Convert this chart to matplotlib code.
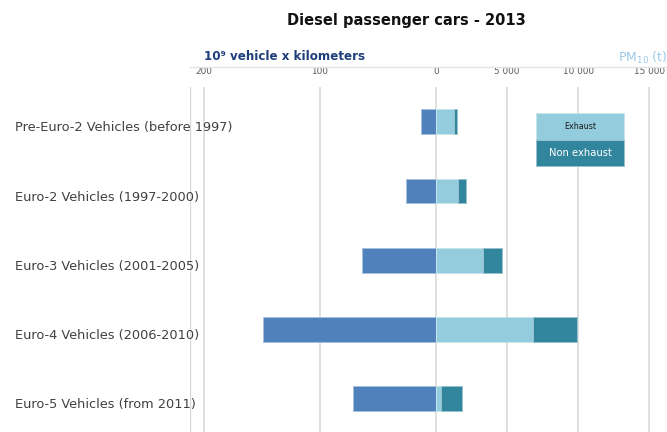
import matplotlib
matplotlib.use("Agg")
import matplotlib.pyplot as plt
from matplotlib.transforms import blended_transform_factory, offset_copy
from matplotlib.patches import Rectangle
from matplotlib.lines import Line2D

categories = ["Pre-Euro-2 Vehicles (before 1997)", "Euro-2 Vehicles (1997-2000)",
              "Euro-3 Vehicles (2001-2005)", "Euro-4 Vehicles (2006-2010)",
              "Euro-5 Vehicles (from 2011)"]
vkm = [13.2, 25.8, 63.4, 149.2, 71.7]          # 10^9 vehicle x km
pm_exhaust = [1270, 1550, 3310, 6840, 320]     # PM10 (t)
pm_non_exhaust = [210, 560, 1340, 3100, 1530]  # PM10 (t)
vkm_ticks = [200, 100, 0]
pm_ticks = [5000, 10000, 15000]
pm_tick_labels = ["5 000", "10 000", "15 000"]

W, H = 667, 432
fig = plt.figure(figsize=(W / 100, H / 100), dpi=100)

def fx(px): return px / W
def fy(py): return 1 - py / H

ax_l, ax_r_px, ax_t, ax_b = 190, 667, 87, 432
ax = fig.add_axes([fx(ax_l), fy(ax_b), fx(ax_r_px - ax_l), fy(ax_t) - fy(ax_b)])
ax2 = ax.twiny()

zero_px = 436.2
k_vkm = 1.1625      # px per 10^9 vkm
k_pm = 0.014187     # px per t
ax.set_xlim(-(zero_px - ax_l) / k_vkm, (ax_r_px - zero_px) / k_vkm)
ax2.set_xlim(-(zero_px - ax_l) / k_pm, (ax_r_px - zero_px) / k_pm)

spacing = 69.3
first = 121.7
ax.set_ylim((ax_b - first) / spacing, -(first - ax_t) / spacing)
ax2.set_ylim(ax.get_ylim())

for a in (ax, ax2):
    for s in a.spines.values():
        s.set_visible(False)
    a.set_xticks([])
    a.set_yticks([])
    a.patch.set_visible(False)

grid_c = "#D9D9D9"
for v in vkm_ticks:
    ax.axvline(-v, color=grid_c, lw=1.2, zorder=0)
for v in pm_ticks:
    ax2.axvline(v, color=grid_c, lw=1.2, zorder=0)
# left border line of label region
ax.axvline(ax.get_xlim()[0] + 0.3, color=grid_c, lw=1.0, zorder=0)

ypos = list(range(len(categories)))
bh = 0.36
ax.barh(ypos, [-v for v in vkm], height=bh, color="#4F81BD",
        edgecolor="#A7C0DE", lw=0.7, zorder=3)
ax2.barh(ypos, pm_exhaust, height=bh, color="#93CDDD",
         edgecolor="#C9E6EE", lw=0.7, zorder=3)
ax2.barh(ypos, pm_non_exhaust, left=pm_exhaust, height=bh, color="#31859C",
         edgecolor="#98C2CE", lw=0.7, zorder=3)

# category labels
tr_lab = offset_copy(blended_transform_factory(fig.transFigure, ax.transData),
                     fig=fig, x=0, y=-6, units="dots")
for i, c in enumerate(categories):
    ax.text(fx(15), i, c, transform=tr_lab, ha="left", va="center",
            fontsize=9.3, color="#404040", family="DejaVu Sans")

# top tick labels
tick_y = fy(72)
tr1 = blended_transform_factory(ax.transData, fig.transFigure)
tr2 = blended_transform_factory(ax2.transData, fig.transFigure)
for v in vkm_ticks:
    ax.text(-v, tick_y, str(v), transform=tr1, ha="center", va="center",
            fontsize=6.4, color="#595959")
for v, lab in zip(pm_ticks, pm_tick_labels):
    ax2.text(v, tick_y, lab, transform=tr2, ha="center", va="center",
             fontsize=6.4, color="#595959")

# top axis line
fig.add_artist(Line2D([fx(190), fx(667)], [fy(66.5), fy(66.5)],
                      color="#E3E3E3", lw=1.0))

# axis titles
fig.text(fx(204), fy(57), "10⁹ vehicle x kilometers", ha="left", va="center",
         fontsize=8.6, fontweight="bold", color="#1F3F7A")
fig.text(fx(618), fy(58), "PM$_{10}$ (t)", ha="left", va="center",
         fontsize=9, color="#9DC8E8")

# title
fig.text(fx(406), fy(20), "Diesel passenger cars - 2013", ha="center", va="center",
         fontsize=10.5, fontweight="bold", color="#111111")

# legend
fig.add_artist(Rectangle((fx(536), fy(140)), fx(88), fy(113) - fy(140),
                         transform=fig.transFigure, facecolor="#93CDDD",
                         edgecolor="#C9E6EE", lw=0.7))
fig.add_artist(Rectangle((fx(536), fy(166)), fx(88), fy(140) - fy(166),
                         transform=fig.transFigure, facecolor="#31859C",
                         edgecolor="#98C2CE", lw=0.7))
fig.text(fx(580), fy(126.5), "Exhaust", ha="center", va="center",
         fontsize=5.8, color="#1a1a1a")
fig.text(fx(580), fy(153), "Non exhaust", ha="center", va="center",
         fontsize=7.2, color="white")

fig.savefig("out.png", dpi=100)
